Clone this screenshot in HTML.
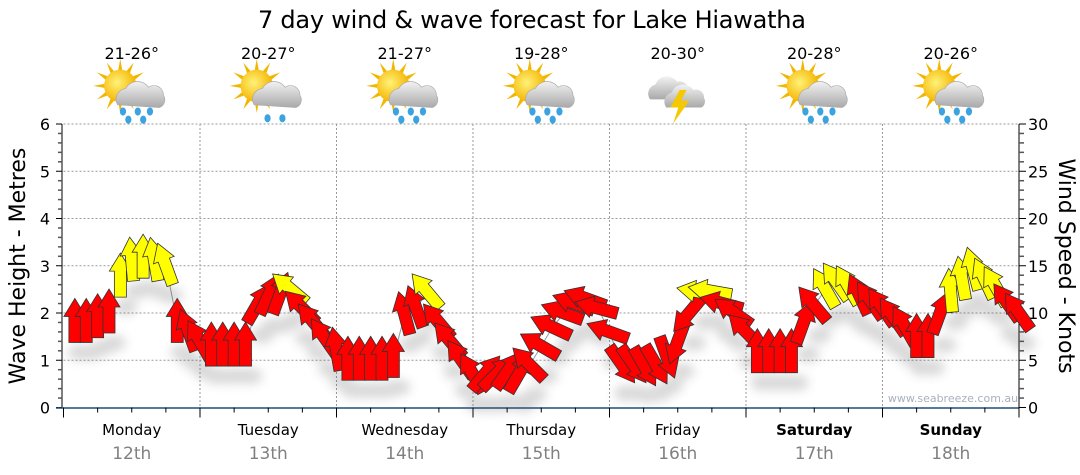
<!DOCTYPE html>
<html><head><meta charset="utf-8">
<style>
html,body{margin:0;padding:0;background:#fff;}
svg{display:block;font-family:"DejaVu Sans","Liberation Sans",sans-serif;}
</style></head>
<body>
<svg id="chart" width="1080" height="475" viewBox="0 0 1080 475">
<defs>
<filter id="sh" x="-50%" y="-50%" width="200%" height="200%"><feGaussianBlur stdDeviation="5"/></filter>
<radialGradient id="sun" cx="0.4" cy="0.4" r="0.6"><stop offset="0" stop-color="#fff27a"/><stop offset="1" stop-color="#f5b400"/></radialGradient>
<linearGradient id="cloud" x1="0" y1="0" x2="0" y2="1"><stop offset="0" stop-color="#f2f2f2"/><stop offset="1" stop-color="#a9a9a9"/></linearGradient>
</defs>
<text x="532" y="28" text-anchor="middle" font-size="24" textLength="548" fill="#000">7 day wind &amp; wave forecast for Lake Hiawatha</text>
<g id="grid"></g>
<g id="axes"></g>
<g id="icons"></g>
<g id="marks"></g>
<text x="953" y="402" text-anchor="middle" font-size="11" fill="#a8b0bc">www.seabreeze.com.au</text>
<text transform="translate(25,266) rotate(-90)" text-anchor="middle" font-size="22" fill="#000">Wave Height - Metres</text>
<text transform="translate(1059,266) rotate(90)" text-anchor="middle" font-size="22" fill="#000">Wind Speed - Knots</text>
</svg>
<script>
const days = ["Monday","Tuesday","Wednesday","Thursday","Friday","Saturday","Sunday"];
const dates = ["12th","13th","14th","15th","16th","17th","18th"];
const temps = ["21-26°","20-27°","21-27°","19-28°","20-30°","20-28°","20-26°"];
const weather = ["rain","showers","rain","rain","storm","rain","rain"];
const leftTicks = [0,1,2,3,4,5,6];
const rightTicks = [0,5,10,15,20,25,30];
const windSpeed = [
 9,9,9.5,10,13.8,15.5,15.8,15.5,15,9,8,7,
 6.5,6.5,6.5,6.5,10.8,11.8,11.9,12.5,10.5,9,7.3,6,
 5,5,5,5,5.3,9.8,10.5,12.2,9,7,5,3.5,
 3.5,3.5,3.8,3.5,4.5,6.5,8.5,10,11,11.5,10.5,8,
 4.7,4.7,4.5,4.7,5.5,7,10,12.2,12.3,11,10,8,
 5.8,5.8,5.8,5.8,8.8,10.8,12.5,13.2,12.8,11.8,11.2,10.5,
 9.5,8.5,7.4,7.4,9.8,12.2,13.5,14.5,13.5,12.7,11,10
];
const windDir = [
 0,0,0,0,0,-5,0,-10,-20,0,-20,-30,
 0,0,0,0,30,25,20,-50,-45,-40,-35,-10,
 0,0,0,0,0,-15,-20,-40,-40,-40,-35,-30,
 40,45,35,30,-45,-60,-65,-70,-70,-70,-75,-70,
 145,145,150,150,160,-160,-140,-80,-80,-75,-55,-45,
 0,0,0,0,20,-40,-30,-35,-30,-25,-35,-35,
 -35,-30,0,0,20,-5,-10,-15,-25,-30,-35,-35
];
const stepHours = 2;
const X0=63.5, X1=1019, Y0=407.5, Y1=124;
const HOURS=168;
const xH = h => X0 + h*(X1-X0)/HOURS;
const yM = m => Y0 - m*(Y0-Y1)/6;
const yK = k => Y0 - k*(Y0-Y1)/30;
const NS="http://www.w3.org/2000/svg";
function mk(tag, attrs, parent){const e=document.createElementNS(NS,tag);for(const k in attrs)e.setAttribute(k,attrs[k]);parent.appendChild(e);return e;}
const grid=document.getElementById('grid'), axes=document.getElementById('axes'), icons=document.getElementById('icons'), marks=document.getElementById('marks');
leftTicks.forEach(v=>{ if(v>0){const l=mk('line',{x1:X0,x2:X1,y1:yM(v),y2:yM(v),stroke:'#999','stroke-dasharray':'2,2','stroke-width':1},grid);

}});
for(let d=1;d<7;d++){const l=mk('line',{x1:xH(d*24),x2:xH(d*24),y1:Y1,y2:Y0,stroke:'#999','stroke-dasharray':'2,2','stroke-width':1},grid);

}
mk('line',{x1:62,x2:62,y1:Y1,y2:Y0+1,stroke:'#000','stroke-width':1},axes);
for(let i=0;i<=30;i++){const y=yM(i/5);mk('line',{x1:i%5==0?56:58,x2:62,y1:y,y2:y,stroke:i%5==0?'#000':'#555','stroke-width':i%5==0?1:1.5},axes);}
leftTicks.forEach(v=>{const t=mk('text',{x:50,y:yM(v)+6,'text-anchor':'end','font-size':16,fill:'#000'},axes);t.textContent=v;

});
mk('line',{x1:X1,x2:X1,y1:Y1,y2:Y0+1,stroke:'#000','stroke-width':1},axes);
for(let i=0;i<=30;i++){const y=yK(i);mk('line',{x1:X1,x2:i%5==0?1026:1024,y1:y,y2:y,stroke:i%5==0?'#000':'#555','stroke-width':i%5==0?1:1.5},axes);}
rightTicks.forEach(v=>{const t=mk('text',{x:1028,y:yK(v)+6,'text-anchor':'start','font-size':16,fill:'#000'},axes);t.textContent=v;

});
mk('line',{x1:56,x2:X1,y1:Y0+0.5,y2:Y0+0.5,stroke:'#1d4f7a','stroke-width':1.5},axes);
for(let h=0;h<=HOURS;h+=6){const maj=h%24==0;mk('line',{x1:xH(h),x2:xH(h),y1:Y0,y2:Y0+(maj?10:5),stroke:'#000','stroke-width':1},axes);}
days.forEach((d,i)=>{const cx=xH(i*24+12);const bold=(i>=5);
const t=mk('text',{x:cx,y:435,'text-anchor':'middle','font-size':15,fill:'#000','font-weight':bold?'bold':'normal'},axes);t.textContent=d;


const t2=mk('text',{x:cx,y:459,'text-anchor':'middle','font-size':17,fill:'#808080'},axes);t2.textContent=dates[i];


const t3=mk('text',{x:cx,y:59,'text-anchor':'middle','font-size':16,fill:'#000'},icons);t3.textContent=temps[i];


const g=mk('g',{transform:`translate(${cx+2},94) scale(1.35)`},icons);


if(weather[i]!=='storm'){
 for(let r=0;r<12;r++){const a=r*30*Math.PI/180;mk('polygon',{points:`${-10+Math.cos(a-0.15)*11},${-6+Math.sin(a-0.15)*11} ${-10+Math.cos(a)*20},${-6+Math.sin(a)*20} ${-10+Math.cos(a+0.15)*11},${-6+Math.sin(a+0.15)*11}`,fill:'#f2b600'},g);}
 mk('circle',{cx:-10,cy:-6,r:12,fill:'url(#sun)'},g);
 mk('path',{d:'M-12,8 a8,8 0 0 1 6,-12 a10,10 0 0 1 17,-1 a7,7 0 0 1 11,6 a6,6 0 0 1 -3,9 z',fill:'url(#cloud)',stroke:'#aaa','stroke-width':0.5},g);
 const drops = weather[i]==='rain'?[[-8,13],[3,13],[12,13],[-4,19],[7,19]]:[[-2,18],[9,18]];
 drops.forEach(p=>mk('ellipse',{cx:p[0],cy:p[1],rx:2.3,ry:3,fill:'#3aa3e0'},g));
} else {
 mk('path',{d:'M-22,4 a7,7 0 0 1 4,-11 a9,9 0 0 1 16,-2 a6,6 0 0 1 8,6 a5,5 0 0 1 -2,7 z',fill:'url(#cloud)'},g);
 mk('path',{d:'M-10,10 a7,7 0 0 1 4,-11 a9,9 0 0 1 16,-2 a6,6 0 0 1 8,6 a5,5 0 0 1 -2,7 z',fill:'url(#cloud)'},g);
 mk('polygon',{points:'0,-3 -7,10 -1,10 -5,22 7,5 1,5 5,-3',fill:'#f5c800'},g);
}
});
const pts=windSpeed.map((v,i)=>[xH(2+i*stepHours),yK(v)]);
const line=mk('polyline',{points:pts.map(p=>p.join(',')).join(' '),fill:'none',stroke:'#999','stroke-width':1},marks);


const shadows=mk('g',{filter:'url(#sh)',opacity:0.22},marks);
const arrowPath='M0,-24 L11,-6 L6,-6 L6,20 L-6,20 L-6,-6 L-11,-6 Z';
pts.forEach((p,i)=>{mk('ellipse',{cx:p[0]+5,cy:p[1]+30,rx:12,ry:8,fill:'#555'},shadows);});
pts.forEach((p,i)=>{
 const a=mk('path',{d:arrowPath,transform:`translate(${p[0]},${p[1]}) rotate(${windDir[i]})`,fill:windSpeed[i]>=12?'#ffff00':'#ff0000',stroke:'#333','stroke-width':0.8,'stroke-linejoin':'miter'},marks);
 
 
});
</script>
</body></html>
